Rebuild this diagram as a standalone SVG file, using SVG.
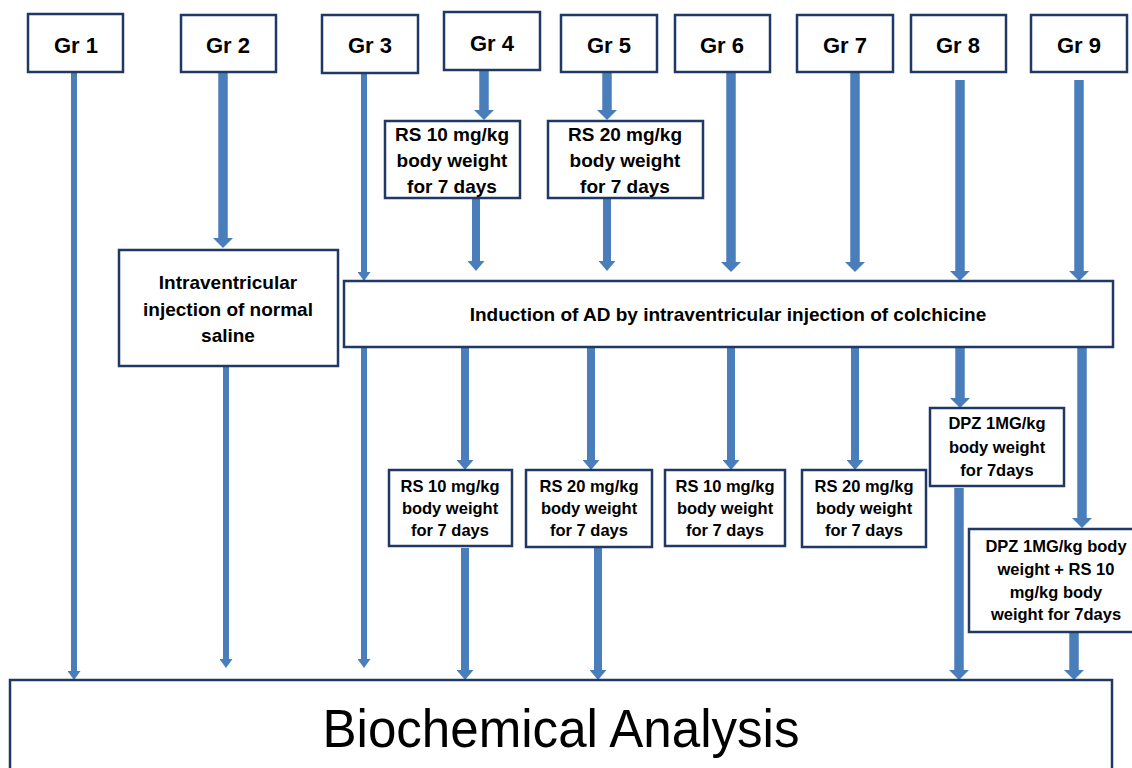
<svg xmlns="http://www.w3.org/2000/svg" width="1132" height="768" viewBox="0 0 1132 768">
<style>
.box{fill:#fff;stroke:#1f3864;stroke-width:2.5}
.t{font-family:"Liberation Sans",Arial,sans-serif;font-weight:bold;fill:#000;text-anchor:middle}
.g{font-size:22px}
.m{font-size:19px}
.s{font-size:16.5px}
.big{font-family:"Liberation Sans",Arial,sans-serif;font-size:54px;fill:#000;text-anchor:middle}
.a{stroke:#4a7ebb;fill:none}
.thin{stroke-width:6;marker-end:url(#hs)}
.mid{stroke-width:8;marker-end:url(#hm)}
.thick{stroke-width:9.5;marker-end:url(#hl)}
</style>
<defs>
<marker id="hs" markerUnits="userSpaceOnUse" viewBox="0 0 9 13" refX="0" refY="6.5" markerWidth="9" markerHeight="13" orient="auto"><path d="M0,0 L9,6.5 L0,13 Z" fill="#4a7ebb"/></marker>
<marker id="hm" markerUnits="userSpaceOnUse" viewBox="0 0 10 17" refX="0" refY="8.5" markerWidth="10" markerHeight="17" orient="auto"><path d="M0,0 L10,8.5 L0,17 Z" fill="#4a7ebb"/></marker>
<marker id="hl" markerUnits="userSpaceOnUse" viewBox="0 0 10 20" refX="0" refY="10" markerWidth="10" markerHeight="20" orient="auto"><path d="M0,0 L10,10 L0,20 Z" fill="#4a7ebb"/></marker>
</defs>
<rect width="1132" height="768" fill="#fff"/>

<g id="connectors">
<line class="a thin" x1="74" y1="72" x2="74" y2="671"/>
<line class="a thick" x1="223" y1="72" x2="223" y2="238"/>
<line class="a thin" x1="226" y1="366" x2="226" y2="659"/>
<line class="a thin" x1="364" y1="73" x2="364" y2="272"/>
<line class="a thin" x1="364" y1="347" x2="364" y2="659"/>
<line class="a thick" x1="484" y1="70" x2="484" y2="110"/>
<line class="a mid" x1="476" y1="198" x2="476" y2="261"/>
<line class="a thick" x1="607" y1="72" x2="607" y2="110"/>
<line class="a mid" x1="607" y1="198" x2="607" y2="261"/>
<line class="a thick" x1="731" y1="72" x2="731" y2="262"/>
<line class="a thick" x1="855" y1="72" x2="855" y2="262"/>
<line class="a thick" x1="960" y1="80" x2="960" y2="271"/>
<line class="a thick" x1="1079" y1="80" x2="1079" y2="271"/>
<line class="a mid" x1="465" y1="347" x2="465" y2="460"/>
<line class="a mid" x1="591" y1="347" x2="591" y2="460"/>
<line class="a mid" x1="731" y1="347" x2="731" y2="460"/>
<line class="a mid" x1="855" y1="347" x2="855" y2="460"/>
<line class="a thick" x1="960" y1="347" x2="960" y2="398"/>
<line class="a thick" x1="1082" y1="347" x2="1082" y2="518"/>
<line class="a mid" x1="465" y1="548" x2="465" y2="670"/>
<line class="a mid" x1="598" y1="548" x2="598" y2="670"/>
<line class="a thick" x1="959" y1="488" x2="959" y2="670"/>
<line class="a thick" x1="1074" y1="633" x2="1074" y2="670"/>
</g>

<g id="gr1"><rect class="box" x="28" y="14" width="95" height="58"/><text class="t g" x="76" y="53">Gr 1</text></g>
<g id="gr2"><rect class="box" x="181" y="15" width="95" height="57"/><text class="t g" x="228" y="53">Gr 2</text></g>
<g id="gr3"><rect class="box" x="322" y="15" width="96" height="58"/><text class="t g" x="370" y="53">Gr 3</text></g>
<g id="gr4"><rect class="box" x="444" y="12" width="96" height="58"/><text class="t g" x="492" y="51">Gr 4</text></g>
<g id="gr5"><rect class="box" x="561" y="15" width="96" height="57"/><text class="t g" x="609" y="53">Gr 5</text></g>
<g id="gr6"><rect class="box" x="675" y="15" width="95" height="57"/><text class="t g" x="722" y="53">Gr 6</text></g>
<g id="gr7"><rect class="box" x="797" y="15" width="96" height="57"/><text class="t g" x="845" y="53">Gr 7</text></g>
<g id="gr8"><rect class="box" x="911" y="15" width="95" height="57"/><text class="t g" x="958" y="53">Gr 8</text></g>
<g id="gr9"><rect class="box" x="1031" y="15" width="96" height="57"/><text class="t g" x="1079" y="53">Gr 9</text></g>

<g id="rs10-pre"><rect class="box" x="385" y="121" width="135" height="77"/>
<text class="t m" x="452" y="141">RS 10 mg/kg</text><text class="t m" x="452" y="167">body weight</text><text class="t m" x="452" y="193">for 7 days</text></g>
<g id="rs20-pre"><rect class="box" x="548" y="121" width="155" height="77"/>
<text class="t m" x="625" y="141">RS 20 mg/kg</text><text class="t m" x="625" y="167">body weight</text><text class="t m" x="625" y="193">for 7 days</text></g>

<g id="saline"><rect class="box" x="119" y="250" width="219" height="116"/>
<text class="t m" x="228" y="289">Intraventricular</text><text class="t m" x="228" y="316">injection of normal</text><text class="t m" x="228" y="342">saline</text></g>

<g id="induction"><rect class="box" x="344" y="281" width="769" height="66"/>
<text class="t m" x="728" y="321">Induction of AD by intraventricular injection of colchicine</text></g>

<g id="rs10-post-a"><rect class="box" x="389" y="470" width="123" height="76"/>
<text class="t s" x="450" y="492">RS 10 mg/kg</text><text class="t s" x="450" y="514">body weight</text><text class="t s" x="450" y="536">for 7 days</text></g>
<g id="rs20-post-a"><rect class="box" x="526" y="470" width="126" height="77"/>
<text class="t s" x="589" y="492">RS 20 mg/kg</text><text class="t s" x="589" y="514">body weight</text><text class="t s" x="589" y="536">for 7 days</text></g>
<g id="rs10-post-b"><rect class="box" x="665" y="470" width="120" height="76"/>
<text class="t s" x="725" y="492">RS 10 mg/kg</text><text class="t s" x="725" y="514">body weight</text><text class="t s" x="725" y="536">for 7 days</text></g>
<g id="rs20-post-b"><rect class="box" x="802" y="470" width="124" height="77"/>
<text class="t s" x="864" y="492">RS 20 mg/kg</text><text class="t s" x="864" y="514">body weight</text><text class="t s" x="864" y="536">for 7 days</text></g>

<g id="dpz"><rect class="box" x="930" y="408" width="134" height="78"/>
<text class="t s" x="997" y="429">DPZ 1MG/kg</text><text class="t s" x="997" y="453">body weight</text><text class="t s" x="997" y="476">for 7days</text></g>

<g id="dpz-rs"><rect class="box" x="969" y="529" width="170" height="103"/>
<text class="t s" x="1056" y="552">DPZ 1MG/kg body</text><text class="t s" x="1056" y="575">weight + RS 10</text><text class="t s" x="1056" y="598">mg/kg body</text><text class="t s" x="1056" y="620">weight for 7days</text></g>

<g id="biochem"><rect class="box" x="10" y="680" width="1102" height="100"/>
<text class="big" x="561" y="747" textLength="477" lengthAdjust="spacingAndGlyphs">Biochemical Analysis</text></g>
</svg>
